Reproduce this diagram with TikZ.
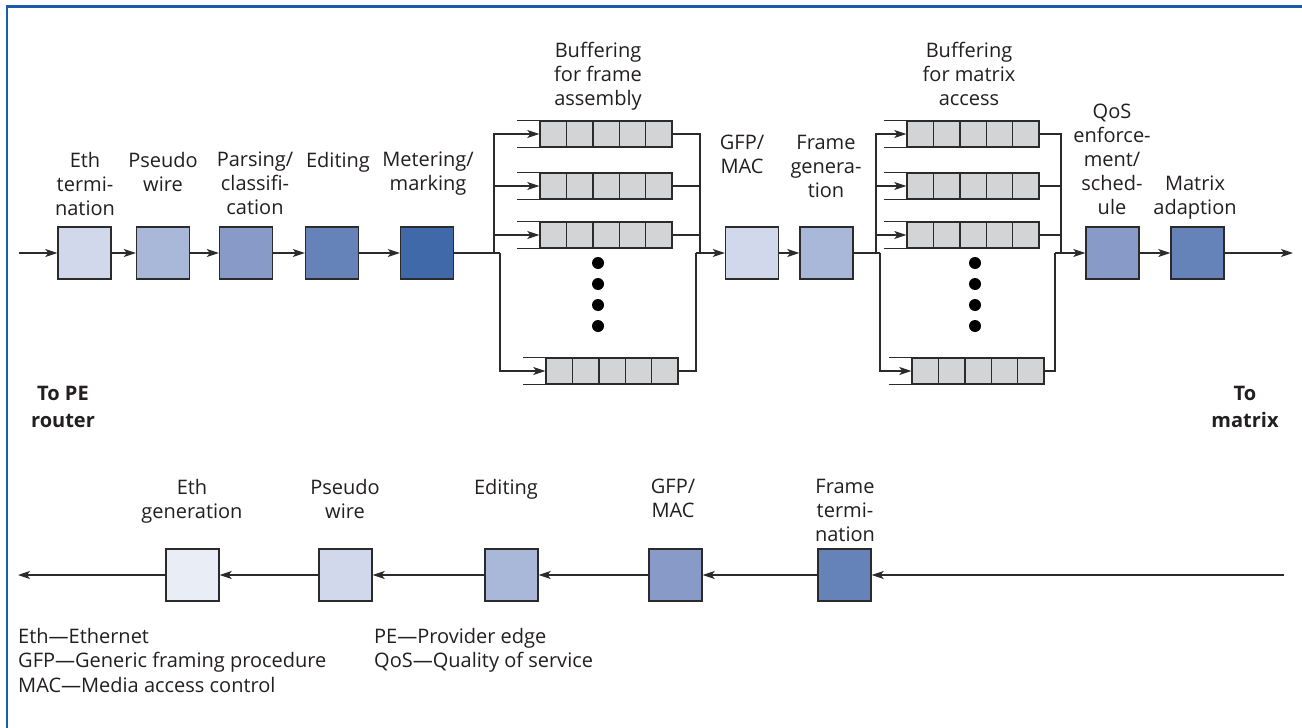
\documentclass[tikz,border=0pt]{standalone}
\usepackage{fontspec}
\setmainfont{Open Sans}
\usetikzlibrary{arrows.meta}
\definecolor{lc}{HTML}{2B2B2B}
\definecolor{txt}{HTML}{231F20}
\definecolor{framec}{HTML}{1A5DA6}
\definecolor{c0}{HTML}{E9EDF6}
\definecolor{c1}{HTML}{D1D8EB}
\definecolor{c2}{HTML}{A9B8D9}
\definecolor{c3}{HTML}{889BC8}
\definecolor{c4}{HTML}{6583B9}
\definecolor{c5}{HTML}{3F69A9}
\definecolor{qgray}{HTML}{D3D4D6}
\begin{document}
\begin{tikzpicture}[x=1pt,y=-1pt,
  conn/.style={draw=lc, line width=1.4pt},
  arr/.style={conn, -{Stealth[length=12pt,width=8pt,inset=3pt]}},
  blk/.style={draw=lc, line width=1.4pt, minimum width=53pt, minimum height=52pt, inner sep=0pt},
  queue/.style={draw=lc, fill=qgray, line width=1.4pt, minimum width=132pt, minimum height=26pt, inner sep=0pt,
    path picture={\foreach \i in {1,2,3,4}{\draw[line width=1.4pt, draw=lc] ([xshift=\i*26.4pt]path picture bounding box.north west) -- ([xshift=\i*26.4pt]path picture bounding box.south west);}}},
  lbl/.style={font={\fontsize{20}{24}\selectfont}, align=center, inner sep=0pt, anchor=north, text=txt},
  bold/.style={font={\fontsize{20}{26.5}\selectfont\bfseries}, align=center, inner sep=0pt, anchor=north, text=txt},
  legend/.style={font={\fontsize{20}{24.5}\selectfont}, align=left, inner sep=0pt, anchor=north west, text=txt},
  dot/.style={circle, fill=black, minimum size=12pt, inner sep=0pt},
  frame/.style={draw=framec, line width=2.6pt}
]
\useasboundingbox (0,0) rectangle (1302,728);
\fill[white] (0,0) rectangle (1302,728);
\draw[frame] (7,728) -- (7,6.2) -- (1302,6.2);

% top row blocks
\node[blk, fill=c1] (eth) at (84.5,253) {};
\node[blk, fill=c2] (pw) at (163,253) {};
\node[blk, fill=c3] (pc) at (246,253) {};
\node[blk, fill=c4] (ed) at (332,253) {};
\node[blk, fill=c5] (mm) at (427,253) {};
\node[blk, fill=c1] (gfp) at (752,253) {};
\node[blk, fill=c2] (fg) at (826.5,253) {};
\node[blk, fill=c3] (qos) at (1112.5,253) {};
\node[blk, fill=c4] (mx) at (1197.5,253) {};

% queues
\node[queue] (q1) at (606,134) {};
\node[queue] (q2) at (606,186) {};
\node[queue] (q3) at (606,235) {};
\node[queue] (q4) at (612,371) {};
\node[queue] (q5) at (973,134) {};
\node[queue] (q6) at (973,186) {};
\node[queue] (q7) at (973,235) {};
\node[queue] (q8) at (978,371) {};
\foreach \q in {q1,q2,q3,q4,q5,q6,q7,q8}{
  \draw[conn] (\q.north west) -- ++(-22,0);
  \draw[conn] (\q.south west) -- ++(-22,0);
}
\foreach \y [count=\k] in {263,284,305,326}{
  \node[dot] (dA\k) at (598,\y) {};
  \node[dot] (dB\k) at (975,\y) {};
}

% top labels
\node[lbl] (lEth) at (85,152) {Eth\\termi-\\nation};
\node[lbl] (lPw) at (163,152) {Pseudo\\wire};
\node[lbl] (lPc) at (255,152) {Parsing/\\classifi-\\cation};
\node[lbl] (lEd) at (338,152) {Editing};
\node[lbl] (lMm) at (428,152) {Metering/\\marking};
\node[lbl] (lB1) at (598,42) {Buffering\\for frame\\assembly};
\node[lbl] (lGfp) at (742,135) {GFP/\\MAC};
\node[lbl] (lFg) at (826,135) {Frame\\genera-\\tion};
\node[lbl] (lB2) at (969,42) {Buffering\\for matrix\\access};
\node[lbl] (lQos) at (1112,104) {QoS\\enforce-\\ment/\\sched-\\ule};
\node[lbl] (lMx) at (1195,176) {Matrix\\adaption};

% top connectors
\coordinate (in) at (19,253);
\draw[arr] (in) -- (eth.west);
\draw[arr] (eth.east) -- (pw.west);
\draw[arr] (pw.east) -- (pc.west);
\draw[arr] (pc.east) -- (ed.west);
\draw[arr] (ed.east) -- (mm.west);
\coordinate (jA) at (494,253);
\coordinate (jB) at (500,253);
\draw[conn] (mm.east) -- (jB);
\foreach \q in {q1,q2,q3} \draw[arr] (jA) |- (\q.west);
\draw[arr] (jB) |- (q4.west);
\coordinate (jC) at (700,253);
\coordinate (jD) at (696,253);
\foreach \q in {q1,q2,q3} \draw[conn] (\q.east) -| (jC);
\draw[conn] (q4.east) -| (jD);
\draw[arr] (jD) -- (gfp.west);
\draw[arr] (gfp.east) -- (fg.west);
\coordinate (jE) at (876,253);
\coordinate (jF) at (880,253);
\draw[conn] (fg.east) -- (jF);
\foreach \q in {q5,q6,q7} \draw[arr] (jE) |- (\q.west);
\draw[arr] (jF) |- (q8.west);
\coordinate (jG) at (1061,253);
\coordinate (jH) at (1055,253);
\foreach \q in {q5,q6,q7} \draw[conn] (\q.east) -| (jG);
\draw[conn] (q8.east) -| (jH);
\draw[arr] (jH) -- (qos.west);
\draw[arr] (qos.east) -- (mx.west);
\coordinate (out) at (1293,253);
\draw[arr] (mx.east) -- (out);

% side labels
\node[bold] (tpe) at (63,386.5) {To PE\\router};
\node[bold] (tmx) at (1245,386.5) {To\\matrix};

% bottom row
\node[blk, fill=c0] (eg) at (192.5,575) {};
\node[blk, fill=c1] (bpw) at (345.5,575) {};
\node[blk, fill=c2] (bed) at (511.5,575) {};
\node[blk, fill=c3] (bgfp) at (675.5,575) {};
\node[blk, fill=c4] (ft) at (844.5,575) {};
\node[lbl] (lEg) at (192,479) {Eth\\generation};
\node[lbl] (lBpw) at (345,479) {Pseudo\\wire};
\node[lbl] (lBed) at (506,479) {Editing};
\node[lbl] (lBgfp) at (673,479) {GFP/\\MAC};
\node[lbl] (lFt) at (845,479) {Frame\\termi-\\nation};
\coordinate (bin) at (1284,575);
\coordinate (bout) at (18,575);
\draw[arr] (bin) -- (ft.east);
\draw[arr] (ft.west) -- (bgfp.east);
\draw[arr] (bgfp.west) -- (bed.east);
\draw[arr] (bed.west) -- (bpw.east);
\draw[arr] (bpw.west) -- (eg.east);
\draw[arr] (eg.west) -- (bout);

% legend
\node[legend] (leg1) at (18,628) {Eth—Ethernet\\GFP—Generic framing procedure\\MAC—Media access control};
\node[legend] (leg2) at (374,628) {PE—Provider edge\\QoS—Quality of service};
\end{tikzpicture}
\end{document}
